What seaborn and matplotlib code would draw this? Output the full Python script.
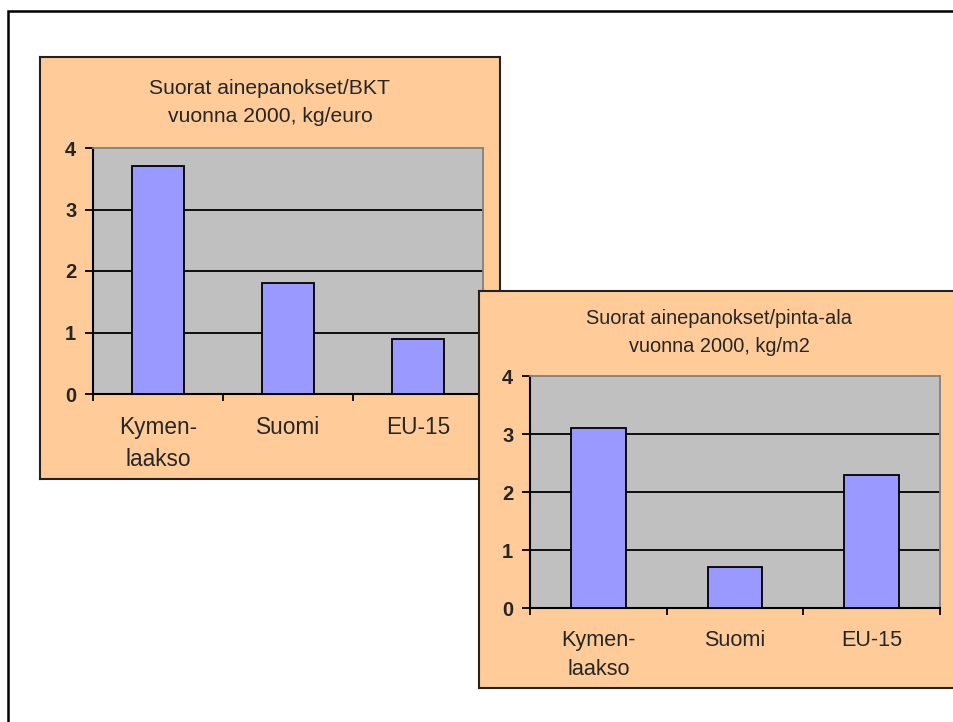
import numpy as np
import matplotlib.pyplot as plt
import matplotlib.patches as mpatches
import seaborn as sns

# --- data ---
categories = ["Kymen-\nlaakso", "Suomi", "EU-15"]
bkt_values = [3.71, 1.81, 0.89]
area_values = [3.10, 0.70, 2.30]
bkt_title = ["Suorat ainepanokset/BKT", "vuonna 2000, kg/euro"]
area_title = ["Suorat ainepanokset/pinta-ala", "vuonna 2000, kg/m2"]
y_ticks = [0, 1, 2, 3, 4]

W, H = 954, 722

sns.set_style("white")
plt.rcParams['font.family'] = ['Liberation Sans', 'DejaVu Sans']

fig = plt.figure(figsize=(W / 100, H / 100), dpi=100)


def px_rect(left, top, right, bottom):
    # pixel box (from top-left) -> figure fraction [l, b, w, h]
    return [left / W, 1 - bottom / H, (right - left) / W, (bottom - top) / H]


# outer page frame (runs off the right and bottom edges)
fig.add_artist(mpatches.Rectangle((8 / W, -0.1), 1.2, 1 - 11 / H + 0.1,
                                  transform=fig.transFigure, fill=False,
                                  edgecolor='black', linewidth=1.8, zorder=-5))


def draw_panel(frame_box, ax_box, title_lines, title_x, title_ys, values, z,
               cat_size, title_size):
    frame = fig.add_axes(px_rect(*frame_box), zorder=z)
    frame.set_facecolor('#FFCC99')
    frame.set_xticks([])
    frame.set_yticks([])
    for s in frame.spines.values():
        s.set_color('#222222')
        s.set_linewidth(1.5)

    ax = fig.add_axes(px_rect(*ax_box), zorder=z + 1)
    ax.set_facecolor('#C0C0C0')
    sns.barplot(x=categories, y=values, ax=ax, color='#9999FF', saturation=1,
                edgecolor='black', linewidth=1.3, width=0.4, zorder=3)

    ax.set_ylim(0, 4)
    ax.set_xlim(-0.5, len(categories) - 0.5)
    ax.set_yticks(y_ticks)
    ax.set_yticklabels([str(t) for t in y_ticks], fontweight='bold', fontsize=14.5)
    ax.tick_params(axis='y', left=True, length=6, width=1.3, color='black', pad=6)
    ax.set_xticks(range(len(categories)))
    ax.set_xticklabels(categories, fontsize=cat_size, linespacing=1.5)
    ax.set_xticks(np.arange(len(categories) + 1) - 0.5, minor=True)
    ax.tick_params(axis='x', which='major', bottom=True, length=0, pad=16)
    ax.tick_params(axis='x', which='minor', bottom=True, length=5, width=1.3,
                   color='black')
    for t in y_ticks[1:-1]:
        ax.axhline(t, color='black', linewidth=1.3, zorder=1)
    for side in ['left', 'bottom']:
        ax.spines[side].set_color('black')
        ax.spines[side].set_linewidth(1.5)
    for side in ['top', 'right']:
        ax.spines[side].set_color('#808080')
        ax.spines[side].set_linewidth(1.3)
    ax.set_xlabel('')
    ax.set_ylabel('')

    for line, y in zip(title_lines, title_ys):
        fig.text(title_x / W, 1 - y / H, line, ha='center', va='center',
                 fontsize=title_size, zorder=10)
    return ax


draw_panel((40, 57, 500, 479), (93, 148, 483, 394), bkt_title, 270, (88, 117),
           bkt_values, 0, 16.3, 15.2)
draw_panel((479, 291, 962, 688), (530, 376, 940, 608), area_title, 719, (318, 347),
           area_values, 2, 15.6, 14.4)

fig.savefig("out.png", dpi=100)
